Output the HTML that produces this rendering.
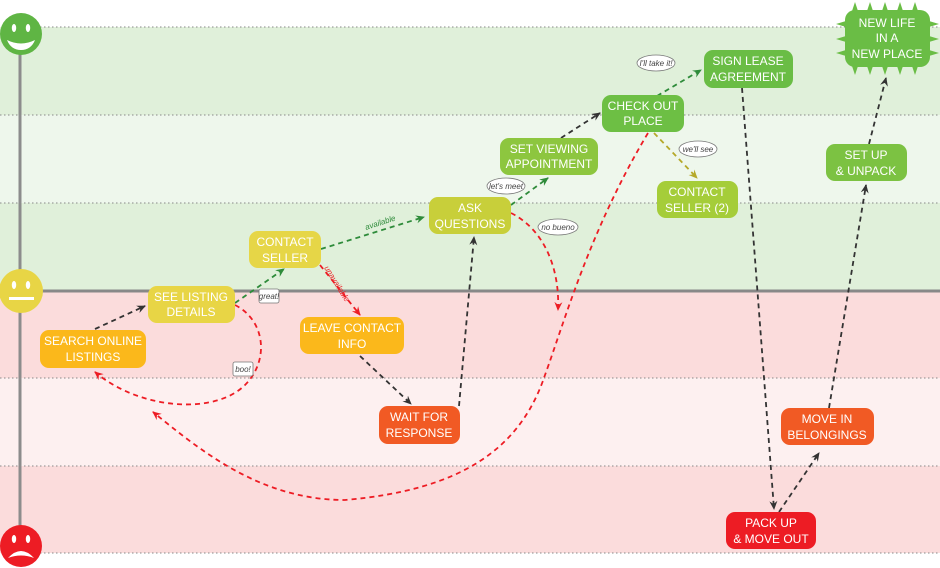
<!DOCTYPE html>
<html><head><meta charset="utf-8"><style>
html,body{margin:0;padding:0;background:#fff;}
svg{display:block;font-family:"Liberation Sans",sans-serif;}
.n{fill:#fff;font-size:12px;text-anchor:middle;}
.b{font-size:8px;fill:#444;font-style:italic;text-anchor:middle;}
</style></head><body>
<svg width="940" height="568" viewBox="0 0 940 568" xmlns="http://www.w3.org/2000/svg">
<defs>
<marker id="ak" markerWidth="10" markerHeight="10" refX="8" refY="5" orient="auto" markerUnits="userSpaceOnUse"><path d="M0,1 L9,5 L0,9 L3,5z" fill="#333"/></marker>
<marker id="ar" markerWidth="10" markerHeight="10" refX="8" refY="5" orient="auto" markerUnits="userSpaceOnUse"><path d="M0,1 L9,5 L0,9 L3,5z" fill="#ed1c24"/></marker>
<marker id="ag" markerWidth="10" markerHeight="10" refX="8" refY="5" orient="auto" markerUnits="userSpaceOnUse"><path d="M0,1 L9,5 L0,9 L3,5z" fill="#2e8b3a"/></marker>
<marker id="ay" markerWidth="10" markerHeight="10" refX="8" refY="5" orient="auto" markerUnits="userSpaceOnUse"><path d="M0,1 L9,5 L0,9 L3,5z" fill="#b5a92a"/></marker>
</defs>
<rect x="0" y="27" width="940" height="88" fill="#e0f0da"/>
<rect x="0" y="115" width="940" height="88" fill="#eef7ec"/>
<rect x="0" y="203" width="940" height="88" fill="#e0f0da"/>
<rect x="0" y="291" width="940" height="87" fill="#fbdcdc"/>
<rect x="0" y="378" width="940" height="88" fill="#fdf0f0"/>
<rect x="0" y="466" width="940" height="87" fill="#fbdcdc"/>
<g stroke="#888" stroke-width="1" stroke-dasharray="1.5,2.5">
<line x1="40" y1="27" x2="940" y2="27"/><line x1="0" y1="115" x2="940" y2="115"/><line x1="0" y1="203" x2="940" y2="203"/>
<line x1="0" y1="378" x2="940" y2="378"/><line x1="0" y1="466" x2="940" y2="466"/><line x1="40" y1="553" x2="940" y2="553"/>
</g>
<line x1="20" y1="291" x2="940" y2="291" stroke="#888" stroke-width="3"/>
<line x1="20" y1="40" x2="20" y2="540" stroke="#8c8c8c" stroke-width="3"/>
<circle cx="21" cy="34" r="21" fill="#5fb544"/>
<ellipse cx="14" cy="28" rx="2.2" ry="4" fill="#fff"/><ellipse cx="28" cy="28" rx="2.2" ry="4" fill="#fff"/>
<path d="M7,40 Q21,47 35,40 Q31,50 21,50 Q11,50 7,40z" fill="#fff"/>
<circle cx="21" cy="291" r="22" fill="#e8d545"/>
<ellipse cx="14" cy="285" rx="2.2" ry="4" fill="#fff"/><ellipse cx="28" cy="285" rx="2.2" ry="4" fill="#fff"/>
<rect x="9" y="297" width="25" height="3" fill="#fff"/>
<circle cx="21" cy="546" r="21" fill="#ed1c24"/>
<ellipse cx="14" cy="539" rx="2.2" ry="4" fill="#fff"/><ellipse cx="28" cy="539" rx="2.2" ry="4" fill="#fff"/>
<path d="M8,558 Q21,544 34,558 Q21,553 8,558z" fill="#fff"/>
<g fill="none" stroke-width="1.8" stroke-dasharray="5,4">
<path d="M95,329 L145,306" stroke="#333" marker-end="url(#ak)"/>
<path d="M235,303 L284,269" stroke="#2e8b3a" marker-end="url(#ag)"/>
<path d="M321,249 L424,217" stroke="#2e8b3a" marker-end="url(#ag)"/>
<path d="M320,265 L360,315" stroke="#ed1c24" marker-end="url(#ar)"/>
<path d="M360,356 L411,404" stroke="#333" marker-end="url(#ak)"/>
<path d="M459,406 L474,237" stroke="#333" marker-end="url(#ak)"/>
<path d="M511,205 L548,178" stroke="#2e8b3a" marker-end="url(#ag)"/>
<path d="M561,138 L600,113" stroke="#333" marker-end="url(#ak)"/>
<path d="M657,96 L701,70" stroke="#2e8b3a" marker-end="url(#ag)"/>
<path d="M654,133 L697,178" stroke="#b5a92a" marker-end="url(#ay)"/>
<path d="M742,88 L774,509" stroke="#333" marker-end="url(#ak)"/>
<path d="M779,512 L819,453" stroke="#333" marker-end="url(#ak)"/>
<path d="M829,408 L866,185" stroke="#333" marker-end="url(#ak)"/>
<path d="M869,144 L886,78" stroke="#333" marker-end="url(#ak)"/>
<path d="M235,305 C265,320 270,360 245,385 C215,415 140,410 95,372" stroke="#ed1c24" marker-end="url(#ar)"/>
<path d="M511,213 C545,230 560,270 558,310" stroke="#ed1c24" marker-end="url(#ar)"/>
<path d="M648,133 C590,230 565,320 545,375 C520,450 460,490 345,500 C260,500 200,450 153,412" stroke="#ed1c24" marker-end="url(#ar)"/>
</g>
<text x="366" y="230" font-size="8" fill="#2e8b3a" font-style="italic" transform="rotate(-18 366 230)">available</text>
<text x="324" y="268" font-size="8" fill="#ed1c24" font-style="italic" transform="rotate(58 324 268)">unavailable</text>
<g fill="#fff" stroke="#777" stroke-width="0.8">
<ellipse cx="656" cy="63" rx="19" ry="8"/><ellipse cx="698" cy="149" rx="19" ry="8"/>
<ellipse cx="506" cy="186" rx="19" ry="8"/><ellipse cx="558" cy="227" rx="20" ry="8"/>
<rect x="259" y="289" width="20" height="14" rx="2"/><rect x="233" y="362" width="20" height="14" rx="2"/>
</g>
<text class="b" x="656" y="66">I'll take it!</text><text class="b" x="698" y="152">we'll see</text>
<text class="b" x="506" y="189">let's meet</text><text class="b" x="558" y="230">no bueno</text>
<text class="b" x="269" y="299">great!</text><text class="b" x="243" y="372">boo!</text>
<g fill="#6abd45">
<path d="M852,11 l3,-9 l3,9z M867,11 l3,-9 l3,9z M882,11 l3,-9 l3,9z M897,11 l3,-9 l3,9z M912,11 l3,-9 l3,9z"/>
<path d="M852,66 l3,9 l3,-9z M867,66 l3,9 l3,-9z M882,66 l3,9 l3,-9z M897,66 l3,9 l3,-9z M912,66 l3,9 l3,-9z"/>
<path d="M846,21 l-10,3 l10,3z M846,36 l-10,3 l10,3z M846,50 l-10,3 l10,3z"/>
<path d="M929,21 l10,3 l-10,3z M929,36 l10,3 l-10,3z M929,50 l10,3 l-10,3z"/>
</g>
<rect x="40" y="330" width="106" height="38" rx="9" fill="#fbb81b"/>
<text class="n" x="93" y="345">SEARCH ONLINE</text><text class="n" x="93" y="361">LISTINGS</text>
<rect x="148" y="286" width="87" height="37" rx="9" fill="#e8d545"/>
<text class="n" x="191" y="301">SEE LISTING</text><text class="n" x="191" y="316">DETAILS</text>
<rect x="249" y="231" width="72" height="37" rx="9" fill="#e6d647"/>
<text class="n" x="285" y="246">CONTACT</text><text class="n" x="285" y="262">SELLER</text>
<rect x="300" y="317" width="104" height="37" rx="9" fill="#fbb81b"/>
<text class="n" x="352" y="332">LEAVE CONTACT</text><text class="n" x="352" y="348">INFO</text>
<rect x="379" y="406" width="81" height="38" rx="9" fill="#f15a24"/>
<text class="n" x="419" y="421">WAIT FOR</text><text class="n" x="419" y="437">RESPONSE</text>
<rect x="429" y="197" width="82" height="37" rx="9" fill="#c8cf3a"/>
<text class="n" x="470" y="212">ASK</text><text class="n" x="470" y="228">QUESTIONS</text>
<rect x="500" y="138" width="98" height="37" rx="9" fill="#8dc63f"/>
<text class="n" x="549" y="153">SET VIEWING</text><text class="n" x="549" y="168">APPOINTMENT</text>
<rect x="602" y="95" width="82" height="37" rx="9" fill="#6dbf44"/>
<text class="n" x="643" y="110">CHECK OUT</text><text class="n" x="643" y="125">PLACE</text>
<rect x="657" y="181" width="81" height="37" rx="9" fill="#a5cd39"/>
<text class="n" x="697" y="196">CONTACT</text><text class="n" x="697" y="212">SELLER (2)</text>
<rect x="704" y="50" width="89" height="38" rx="9" fill="#6abd45"/>
<text class="n" x="748" y="65">SIGN LEASE</text><text class="n" x="748" y="81">AGREEMENT</text>
<rect x="845" y="10" width="85" height="57" rx="10" fill="#6abd45"/>
<text class="n" x="887" y="27">NEW LIFE</text><text class="n" x="887" y="42">IN A</text><text class="n" x="887" y="58">NEW PLACE</text>
<rect x="826" y="144" width="81" height="37" rx="9" fill="#7cc242"/>
<text class="n" x="866" y="159">SET UP</text><text class="n" x="866" y="175">&amp; UNPACK</text>
<rect x="781" y="408" width="93" height="37" rx="9" fill="#f15a24"/>
<text class="n" x="827" y="423">MOVE IN</text><text class="n" x="827" y="439">BELONGINGS</text>
<rect x="726" y="512" width="90" height="37" rx="9" fill="#ed1c24"/>
<text class="n" x="771" y="527">PACK UP</text><text class="n" x="771" y="543">&amp; MOVE OUT</text>
</svg>
</body></html>
